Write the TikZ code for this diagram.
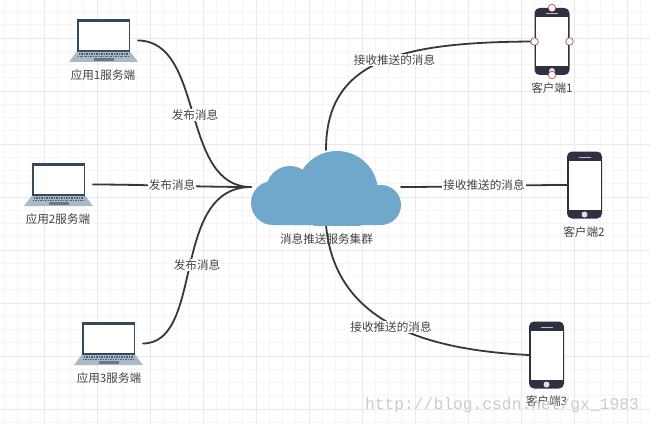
\documentclass[tikz,border=0pt]{standalone}
\usepackage{fontspec}
\setmainfont{Noto Sans CJK SC}
\newfontfamily\wmfont{Liberation Mono}
\definecolor{gridminor}{HTML}{F5F5F5}
\definecolor{gridmajor}{HTML}{E9E9E9}
\definecolor{cloudblue}{HTML}{6FA8CB}
\definecolor{inktext}{HTML}{444444}
\definecolor{wire}{HTML}{383838}
\definecolor{lapframe}{HTML}{34495A}
\definecolor{lapbase}{HTML}{A9BAC6}
\definecolor{lapkeys}{HTML}{4C5F6E}
\definecolor{phonebody}{HTML}{2E3140}
\definecolor{handle}{HTML}{A8504F}
\tikzset{
  x=1pt,y=-1pt,
  lapbox/.style={draw=none,inner sep=0pt,outer sep=0pt,minimum width=69pt,minimum height=43pt},
  phonebox/.style={draw=none,inner sep=0pt,outer sep=0pt,minimum width=35pt,minimum height=67pt},
  caption/.style={text=inktext,font=\fontsize{11.6}{13}\selectfont,inner sep=0pt},
  edgelabel/.style={text=inktext,font=\fontsize{11.6}{13}\selectfont,fill=white,inner sep=1pt},
  link/.style={draw=wire,line width=1.8pt,line cap=round},
  handledot/.style={circle,draw=handle,fill=white,line width=0.7pt,minimum size=7.5pt,inner sep=0pt},
}
% laptop drawn around a named box
\newcommand{\laptopat}[3]{%
  \node[lapbox] (#1) at (#2,#3) {};
  \begin{scope}[shift={(#2,#3)}]
    \fill[lapframe] (-26.5,-21.5) rectangle (26.5,11.5);
    \fill[white] (-25,-18.5) rectangle (25,9.5);
    \fill[lapbase] (-27,11.5) -- (27,11.5) -- (34.5,21.5) -- (-34.5,21.5) -- cycle;
    \draw[lapkeys,line width=1.6pt,dash pattern=on 1.6pt off 0.9pt] (-25,13.5) -- (25,13.5);
    \draw[lapkeys,line width=1.2pt,dash pattern=on 1.6pt off 0.9pt] (-26,16) -- (26,16);
    \fill[lapkeys!70!lapbase] (-10,17.5) rectangle (10,20.5);
  \end{scope}}
% phone drawn around a named box
\newcommand{\phoneat}[3]{%
  \node[phonebox] (#1) at (#2,#3) {};
  \begin{scope}[shift={(#2,#3)}]
    \fill[phonebody,rounded corners=5pt] (-17.5,-33.5) rectangle (17.5,33.5);
    \fill[white] (-16,-24) rectangle (16,25);
    \fill[white!70!phonebody] (-6,-28.5) rectangle (6,-27.5);
    \fill[white!85!phonebody] (0,29.5) circle (3pt);
  \end{scope}}
\begin{document}
\begin{tikzpicture}
\useasboundingbox (0,0) rectangle (650,425);
\fill[white] (0,0) rectangle (650,425);
% background grid
\foreach \i in {-3,...,49} {
  \draw[gridminor,line width=0.8pt] ({\i*13.25+4.25},0) -- ({\i*13.25+4.25},425);
  \draw[gridminor,line width=0.8pt] (0,{\i*13.25-1.75}) -- (650,{\i*13.25-1.75});
}
\foreach \i in {0,...,12} {
  \draw[gridmajor,line width=0.9pt] ({\i*53-9},0) -- ({\i*53-9},425);
  \draw[gridmajor,line width=0.9pt] (0,{\i*53-15}) -- (650,{\i*53-15});
}
% devices
\laptopat{appA}{103.5}{40.5}
\laptopat{appB}{58.5}{184.5}
\laptopat{appC}{108.5}{343.5}
\phoneat{cliA}{552}{41.5}
\phoneat{cliB}{584.5}{185}
\phoneat{cliC}{546.5}{355}
% connector ends at the cloud
\coordinate (hub) at (251,187);
\coordinate (outTop) at (326,150);
\coordinate (outRight) at (401,187);
\coordinate (outLow) at (326,225);
% connectors
\draw[link] (appA.east) .. controls (205,41) and (180,187) .. (hub);
\draw[link] (appB.east) .. controls (140,184.5) and (200,187) .. (hub);
\draw[link] (appC.east) .. controls (205,343) and (170,187) .. (hub);
\draw[link] (outTop) .. controls (326,60) and (400,42) .. (cliA.west);
\draw[link] (outRight) .. controls (450,187) and (520,185) .. (cliB.west);
\draw[link] (outLow) .. controls (335,325) and (430,350) .. (cliC.west);
% cloud: overlapping lobes cut flat along the bottom
\begin{scope}
  \clip (240,140) rectangle (410,225);
  \fill[cloudblue] (337,192) circle (41pt) (290,190) circle (24pt)
    (273,203) circle (22pt) (381,205) circle (20pt)
    (273,190) rectangle (381,225);
\end{scope}
\node[caption] (cloudcap) at (326.5,239) {消息推送服务集群};
% connector labels
\node[edgelabel] (pubA) at (195,115) {发布消息};
\node[edgelabel] (pubB) at (172,185.5) {发布消息};
\node[edgelabel] (pubC) at (197,265) {发布消息};
\node[edgelabel] (subA) at (394.5,60) {接收推送的消息};
\node[edgelabel] (subB) at (484,185) {接收推送的消息};
\node[edgelabel] (subC) at (391,327) {接收推送的消息};
% device captions
\node[caption] (capA) at (103,75) {应用1服务端};
\node[caption] (capB) at (58,219) {应用2服务端};
\node[caption] (capC) at (109,378) {应用3服务端};
\node[caption] (capD) at (552,88) {客户端1};
\node[caption] (capE) at (584,232) {客户端2};
\node[caption] (capF) at (546.5,401) {客户端3};
% selection handles on the first phone
\node[handledot] (hN) at (cliA.north) {};
\node[handledot] (hW) at (cliA.west) {};
\node[handledot] (hE) at (cliA.east) {};
\node[handledot] (hS) at (cliA.south) {};
% watermark
\node[text=black!20,font=\wmfont\fontsize{16.3}{18}\selectfont,inner sep=0pt] (mark) at (502,405) {http://blog.csdn.net/gx\_1983};
\end{tikzpicture}
\end{document}
